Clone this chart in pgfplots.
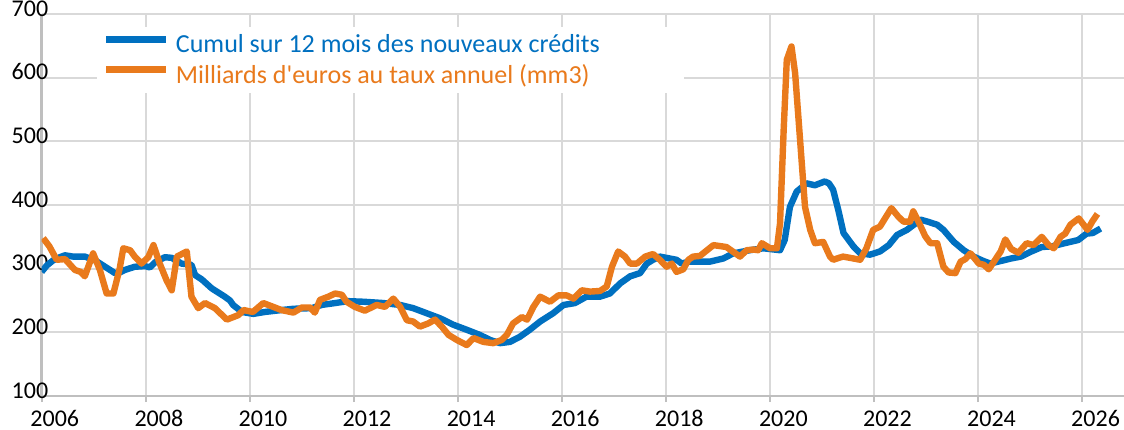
\documentclass[border=0pt]{standalone}
\usepackage{pgfplots}
\pgfplotsset{compat=1.18}
\usepackage{fontspec}
\setmainfont{Carlito}[Ligatures=TeXOff]
\definecolor{cblue}{HTML}{0070C0}
\definecolor{corange}{HTML}{E97A1C}
\definecolor{gridc}{HTML}{D9D9D9}
\definecolor{axc}{HTML}{BFBFBF}
\begin{document}
\begin{tikzpicture}
\begin{axis}[
  scale only axis, width=541.2pt, height=191pt,
  xmin=2006, xmax=2026.8, ymin=100, ymax=700,
  axis x line=bottom, axis y line=left,
  axis line style={draw=axc, line width=1.2pt, -},
  xtick={2006,2008,...,2026}, ytick={100,200,...,700},
  /pgf/number format/1000 sep={},
  /pgf/number format/assume math mode=true,
  grid=major, major grid style={draw=gridc, line width=1pt},
  tick align=outside, major tick length=3pt,
  xtick style={draw=axc, line width=1pt},
  ytick style={draw=none},
  tick label style={font=\fontsize{12}{14}\selectfont},
  xticklabel style={anchor=base, inner sep=0pt, yshift=-12pt, xshift=6.6pt},
  yticklabel style={anchor=base east, inner sep=0pt, xshift=6.5pt, yshift=-1pt},
  legend style={at={(0.0508,0.966)}, anchor=north west, fill=white, draw=none,
    inner xsep=3pt, inner ysep=2.5pt, font=\fontsize{13}{15}\selectfont,
    nodes={inner sep=1pt}, row sep=2.5pt,
    /tikz/every odd column/.append style={column sep=2pt}},
  legend cell align=left,
  legend image code/.code={\draw[#1, line width=3.5pt] (0pt,0.6ex) -- (30pt,0.6ex);},
  every axis plot/.append style={line width=3.2pt, line join=round, no markers},
]
\addplot[cblue] coordinates {
(2006.00,295) (2006.10,305) (2006.22,313) (2006.35,318) (2006.45,321) (2006.60,319)
(2006.83,319) (2007.03,313) (2007.22,303) (2007.41,293) (2007.50,294) (2007.60,298)
(2007.79,303) (2007.99,304) (2008.08,302) (2008.18,310) (2008.37,318) (2008.50,317)
(2008.69,308) (2008.88,306) (2008.95,290) (2009.08,283) (2009.27,269) (2009.52,256)
(2009.62,250) (2009.68,243) (2009.85,232) (2010.07,229) (2010.29,232) (2010.61,235)
(2010.84,237) (2011.19,238) (2011.38,243) (2011.64,246) (2011.89,249) (2012.20,248)
(2012.57,246) (2012.89,243) (2013.14,238) (2013.40,230) (2013.66,222) (2013.91,212)
(2014.17,204) (2014.42,196) (2014.62,188) (2014.81,183) (2015.00,185) (2015.19,193)
(2015.38,204) (2015.58,217) (2015.83,230) (2016.03,243) (2016.25,246) (2016.47,256)
(2016.73,256) (2016.92,261) (2017.12,277) (2017.31,288) (2017.50,293) (2017.63,308)
(2017.75,314) (2017.88,319) (2018.07,316) (2018.20,314) (2018.30,308) (2018.43,311)
(2018.84,311) (2019.10,316) (2019.29,324) (2019.61,329) (2019.87,332) (2020.19,329)
(2020.28,345) (2020.38,397) (2020.51,421) (2020.70,434) (2020.86,431) (2021.05,437)
(2021.13,434) (2021.21,424) (2021.31,392) (2021.41,356) (2021.60,335) (2021.73,324)
(2021.92,322) (2022.11,327) (2022.28,337) (2022.44,353) (2022.63,361) (2022.76,369)
(2022.89,377) (2023.02,374) (2023.21,369) (2023.33,361) (2023.53,342) (2023.72,329)
(2023.91,319) (2024.10,312) (2024.23,308) (2024.43,312) (2024.63,316) (2024.82,319)
(2025.02,327) (2025.22,334) (2025.41,335) (2025.66,340) (2025.92,345) (2026.08,355)
(2026.20,356) (2026.35,363)
};
\addlegendentry{\makebox[250pt][l]{\textcolor{cblue}{Cumul sur 12 mois des nouveaux crédits}}}
\addplot[corange] coordinates {
(2006.03,348) (2006.15,335) (2006.29,314) (2006.45,315) (2006.64,298) (2006.75,295)
(2006.83,288) (2006.99,324) (2007.12,298) (2007.25,261) (2007.38,261) (2007.50,300)
(2007.57,332) (2007.70,329) (2007.79,319) (2007.92,308) (2008.05,318) (2008.15,337)
(2008.27,308) (2008.40,282) (2008.50,266) (2008.60,319) (2008.79,327) (2008.88,256)
(2009.01,238) (2009.14,246) (2009.33,238) (2009.56,220) (2009.78,227) (2009.88,235)
(2010.06,232) (2010.26,246) (2010.42,241) (2010.61,235) (2010.84,231) (2011.00,239)
(2011.16,239) (2011.25,231) (2011.35,251) (2011.51,256) (2011.64,261) (2011.77,259)
(2011.86,248) (2012.02,240) (2012.21,234) (2012.44,243) (2012.60,240) (2012.76,253)
(2012.89,240) (2013.02,219) (2013.14,217) (2013.27,209) (2013.43,214) (2013.56,220)
(2013.69,209) (2013.82,196) (2013.98,188) (2014.17,180) (2014.30,191) (2014.49,185)
(2014.68,183) (2014.84,188) (2014.94,196) (2015.06,214) (2015.23,224) (2015.33,220)
(2015.45,240) (2015.58,256) (2015.77,248) (2015.93,258) (2016.09,258) (2016.22,253)
(2016.38,266) (2016.54,264) (2016.73,265) (2016.86,272) (2016.96,303) (2017.08,327)
(2017.21,319) (2017.31,308) (2017.44,308) (2017.60,319) (2017.75,323) (2017.88,314)
(2018.01,303) (2018.11,308) (2018.20,295) (2018.33,299) (2018.43,314) (2018.52,319)
(2018.65,320) (2018.91,337) (2019.16,334) (2019.42,319) (2019.55,329) (2019.68,330)
(2019.77,329) (2019.84,340) (2020.00,332) (2020.13,332) (2020.19,371) (2020.26,518)
(2020.32,628) (2020.41,649) (2020.48,607) (2020.57,508) (2020.67,397) (2020.77,361)
(2020.86,340) (2021.02,342) (2021.15,319) (2021.21,314) (2021.40,319) (2021.60,316)
(2021.73,314) (2021.85,332) (2021.98,361) (2022.11,366) (2022.17,374) (2022.33,395)
(2022.46,382) (2022.56,374) (2022.69,374) (2022.75,390) (2022.85,374) (2022.98,351)
(2023.08,340) (2023.21,340) (2023.33,303) (2023.43,294) (2023.56,293) (2023.66,311)
(2023.75,315) (2023.85,324) (2024.01,308) (2024.11,306) (2024.20,299) (2024.30,311)
(2024.43,327) (2024.52,346) (2024.63,331) (2024.77,325) (2024.93,340) (2025.06,337)
(2025.22,350) (2025.35,337) (2025.45,332) (2025.58,350) (2025.67,355) (2025.77,369)
(2025.93,379) (2026.10,361) (2026.19,374) (2026.29,386)
};
\addlegendentry{\makebox[250pt][l]{\textcolor{corange}{Milliards d'euros au taux annuel (mm3)}}}
\end{axis}
\pgfresetboundingbox
\path[use as bounding box] (current axis.south west) ++(-20.8pt,-16.5pt) rectangle ++(562pt,214.5pt);
\end{tikzpicture}
\end{document}
